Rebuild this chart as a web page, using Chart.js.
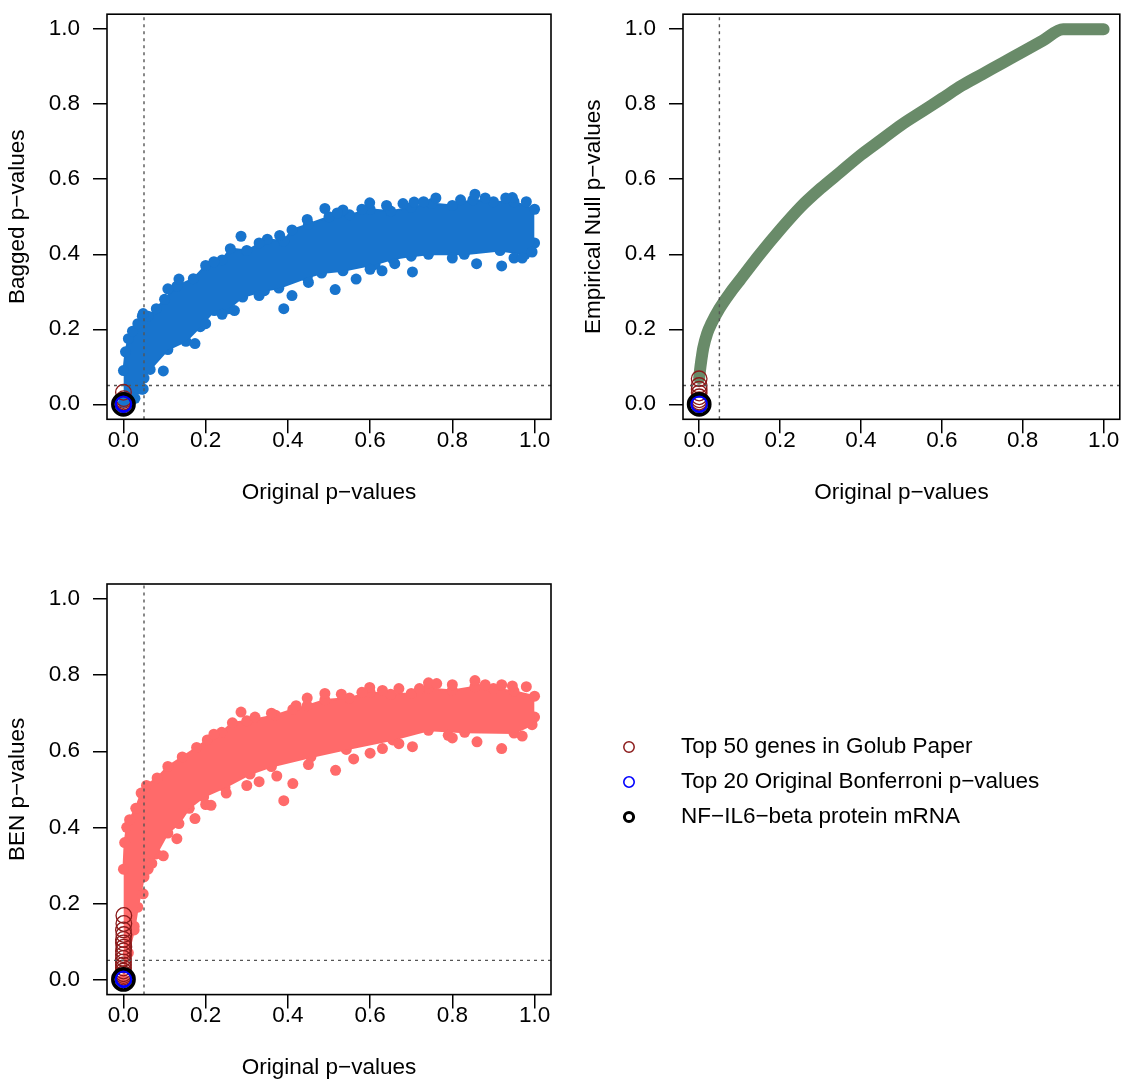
<!DOCTYPE html>
<html>
<head>
<meta charset="utf-8">
<script src="https://cdn.jsdelivr.net/npm/chart.js@4/dist/chart.umd.min.js"></script>
<style>
  body { margin: 0; background: #fff; }
  #wrap { position: relative; width: 1134px; height: 1084px; }
  canvas { position: absolute; }
</style>
</head>
<body>
<div id="wrap">
  <canvas id="baggedChart" width="567" height="542" style="left:0;top:0"></canvas>
  <canvas id="nullChart" width="567" height="542" style="left:567px;top:0"></canvas>
  <canvas id="benChart" width="1134" height="542" style="left:0;top:542px"></canvas>
</div>
<script>
// shared axis settings
const tickValues = [0, 0.2, 0.4, 0.6, 0.8, 1.0];
const axisMin = -0.04, axisMax = 1.04;
const cutoff = 0.05;

// Bagged p-values: outline of the dense cloud and the scattered points around it
const baggedUpper = [[0, 0.09], [0.005, 0.14], [0.012, 0.175], [0.022, 0.195], [0.035, 0.215], [0.046, 0.235],
  [0.06, 0.235], [0.08, 0.255], [0.1, 0.28], [0.13, 0.315], [0.17, 0.335], [0.2, 0.37], [0.24, 0.385],
  [0.26, 0.415], [0.3, 0.41], [0.35, 0.44], [0.39, 0.435], [0.41, 0.465], [0.45, 0.48], [0.5, 0.5],
  [0.55, 0.505], [0.6, 0.52], [0.65, 0.515], [0.7, 0.525], [0.75, 0.535], [0.8, 0.53], [0.85, 0.545],
  [0.9, 0.54], [0.95, 0.54], [1.0, 0.52]];
const baggedLower = [[0, 0.005], [0.02, 0.012], [0.045, 0.04], [0.05, 0.07], [0.065, 0.093], [0.108, 0.146],
  [0.152, 0.168], [0.187, 0.207], [0.221, 0.25], [0.256, 0.255], [0.29, 0.286], [0.343, 0.303],
  [0.378, 0.31], [0.447, 0.338], [0.482, 0.35], [0.534, 0.356], [0.612, 0.373], [0.655, 0.387],
  [0.7, 0.395], [0.742, 0.4], [0.829, 0.4], [0.916, 0.41], [0.977, 0.4], [1.0, 0.43]];
const baggedStray = [[0.097, 0.089], [0.174, 0.162], [0.39, 0.255], [0.41, 0.29], [0.515, 0.306],
  [0.566, 0.334], [0.629, 0.356], [0.703, 0.353], [0.859, 0.375], [0.92, 0.369], [0.95, 0.39],
  [0.994, 0.406], [0.286, 0.448], [0.447, 0.493], [0.49, 0.522], [0.855, 0.56], [0.599, 0.537],
  [0.76, 0.55], [0.946, 0.551], [0.707, 0.539], [0.534, 0.518], [0.135, 0.334], [0.108, 0.308],
  [0.048, 0.242], [0.048, 0.041], [0.028, 0.016],
  [0.2, 0.215], [0.24, 0.24], [0.27, 0.25], [0.33, 0.29], [0.45, 0.325], [0.6, 0.36], [0.66, 0.375],
  [0.8, 0.39], [0.97, 0.39], [0.22, 0.38], [0.33, 0.43], [0.38, 0.45], [0.52, 0.51], [0.58, 0.52],
  [0.64, 0.53], [0.68, 0.535], [0.73, 0.54], [0.82, 0.545], [0.88, 0.55], [0.93, 0.55], [0.98, 0.54]];
const baggedGolub = [[0, 0.032], [0.001, 0.015], [0, 0.01], [0.001, 0.006], [0, 0.004], [0, 0.002], [0, 0.001], [0, 0]];
const baggedBonf = [[0, 0], [0, 0.001], [0.001, 0.002]];
const baggedNf = [[0, 0]];

// Empirical null p-values: a single monotone curve
const nullCurve = [[0, 0.07], [0.002, 0.09], [0.005, 0.115], [0.01, 0.15], [0.02, 0.19], [0.03, 0.215],
  [0.05, 0.255], [0.075, 0.295], [0.1, 0.33], [0.15, 0.4], [0.2, 0.465], [0.25, 0.525], [0.3, 0.575],
  [0.35, 0.62], [0.4, 0.665], [0.45, 0.705], [0.5, 0.745], [0.55, 0.78], [0.6, 0.815], [0.65, 0.85],
  [0.7, 0.88], [0.75, 0.91], [0.8, 0.94], [0.85, 0.97], [0.9, 1.0], [1.0, 1.0]];
const nullGolub = [[0, 0.068], [0, 0.05], [0, 0.04], [0, 0.03], [0, 0.02], [0, 0.012], [0, 0.006], [0, 0.003], [0, 0.001]];
const nullBonf = [[0, 0], [0, 0.001]];
const nullNf = [[0, 0]];

// BEN p-values
const benUpper = [[0, 0.29], [0.003, 0.36], [0.008, 0.4], [0.015, 0.42], [0.03, 0.45], [0.043, 0.49],
  [0.056, 0.51], [0.082, 0.53], [0.108, 0.56], [0.143, 0.585], [0.178, 0.61], [0.204, 0.63],
  [0.239, 0.65], [0.265, 0.675], [0.3, 0.68], [0.37, 0.695], [0.412, 0.71], [0.447, 0.72],
  [0.49, 0.735], [0.55, 0.74], [0.6, 0.755], [0.65, 0.75], [0.7, 0.752], [0.742, 0.765], [0.8, 0.76],
  [0.855, 0.77], [0.9, 0.765], [0.95, 0.758], [1.0, 0.745]];
const benLower = [[0, 0], [0.012, 0.07], [0.026, 0.13], [0.035, 0.19], [0.05, 0.27], [0.06, 0.29],
  [0.08, 0.33], [0.108, 0.385], [0.135, 0.41], [0.16, 0.45], [0.195, 0.48], [0.247, 0.505],
  [0.308, 0.54], [0.36, 0.56], [0.456, 0.585], [0.542, 0.605], [0.655, 0.63], [0.742, 0.655],
  [0.83, 0.65], [0.95, 0.648], [0.994, 0.67], [1.0, 0.69]];
const benStray = [[0.048, 0.225], [0.069, 0.305], [0.097, 0.325], [0.13, 0.37], [0.174, 0.423],
  [0.213, 0.458], [0.3, 0.51], [0.39, 0.47], [0.412, 0.515], [0.373, 0.535], [0.516, 0.55],
  [0.56, 0.58], [0.63, 0.607], [0.703, 0.612], [0.79, 0.642], [0.86, 0.625], [0.92, 0.607],
  [0.286, 0.703], [0.447, 0.74], [0.49, 0.752], [0.599, 0.768], [0.742, 0.78], [0.855, 0.786],
  [0.762, 0.778], [0.946, 0.772], [0.026, 0.14],
  [0.22, 0.645], [0.32, 0.69], [0.36, 0.7], [0.42, 0.72], [0.53, 0.75], [0.58, 0.755], [0.63, 0.76],
  [0.67, 0.765], [0.72, 0.765], [0.8, 0.775], [0.88, 0.775], [0.92, 0.775], [0.98, 0.77],
  [0.2, 0.46], [0.25, 0.49], [0.33, 0.52], [0.45, 0.565], [0.6, 0.595], [0.67, 0.62], [0.8, 0.635], [0.97, 0.64]];
const benGolub = [[0.001, 0.168], [0.001, 0.147], [0, 0.13], [0.001, 0.118], [0, 0.105], [0, 0.096],
  [0.001, 0.085], [0, 0.075], [0, 0.065], [0, 0.055], [0, 0.046], [0, 0.038], [0, 0.03], [0, 0.022],
  [0, 0.015], [0, 0.01], [0, 0.006], [0, 0.003], [0, 0.001]];
const benBonf = [[0, 0], [0, 0.001], [0.001, 0.002]];
const benNf = [[0, 0]];

// marker key
const keyLabels = ['Top 50 genes in Golub Paper', 'Top 20 Original Bonferroni p\u2212values', 'NF\u2212IL6\u2212beta protein mRNA'];
const keyColors = ['#8B1A1A', '#0000FF', '#000000'];
const keyWidths = [1.5, 1.6, 3];

const fontFamily = '"Liberation Sans", Arial, Helvetica, sans-serif';
const font = { family: fontFamily, size: 22.5, lineHeight: 1 };
const pts = arr => arr.map(p => ({ x: p[0], y: p[1] }));

// box around the plotting region
const framePlugin = {
  id: 'frame',
  afterDatasetsDraw(chart) {
    const { ctx, chartArea: a } = chart;
    ctx.save();
    ctx.strokeStyle = '#000';
    ctx.lineWidth = 1.6;
    ctx.strokeRect(a.left, a.top, a.right - a.left, a.bottom - a.top);
    ctx.restore();
  }
};

const keyPlugin = {
  id: 'markerKey',
  afterDraw(chart) {
    const ctx = chart.ctx;
    const cx = chart.chartArea.right + 78;
    ctx.save();
    ctx.font = '22.5px ' + fontFamily;
    ctx.textBaseline = 'middle';
    keyLabels.forEach((label, i) => {
      const y = 205 + i * 35;
      ctx.beginPath();
      ctx.arc(cx, y, i === 2 ? 4.6 : 5.2, 0, Math.PI * 2);
      ctx.lineWidth = keyWidths[i];
      ctx.strokeStyle = keyColors[i];
      ctx.stroke();
      ctx.fillStyle = '#000';
      ctx.fillText(label, cx + 52, y);
    });
    ctx.restore();
  }
};

function markerSets(golub, bonf, nf) {
  return [
    { data: pts(golub), order: 4, pointRadius: 7.8, pointBorderWidth: 1.3,
      pointBorderColor: '#8B1A1A', pointBackgroundColor: 'rgba(0,0,0,0)' },
    { data: pts(bonf), order: 3, pointRadius: 7.8, pointBorderWidth: 2,
      pointBorderColor: '#0000FF', pointBackgroundColor: 'rgba(0,0,0,0)' },
    { data: pts(nf), order: 2, pointRadius: 10.6, pointBorderWidth: 3.6,
      pointBorderColor: '#000', pointBackgroundColor: 'rgba(0,0,0,0)' }
  ];
}

function cutoffLines() {
  const style = { type: 'line', order: 1, borderColor: '#555', borderWidth: 1.4, borderDash: [3, 4],
    pointRadius: 0, fill: false };
  return [
    Object.assign({ data: [{ x: cutoff, y: axisMin }, { x: cutoff, y: axisMax }] }, style),
    Object.assign({ data: [{ x: axisMin, y: cutoff }, { x: axisMax, y: cutoff }] }, style)
  ];
}

function cloudSets(upper, lower, stray, color) {
  const edge = { type: 'line', order: 10, borderColor: color, backgroundColor: color, borderWidth: 2,
    pointRadius: 5.5, pointBorderWidth: 0, pointBackgroundColor: color };
  return [
    Object.assign({ data: pts(upper), fill: '+1' }, edge),
    Object.assign({ data: pts(lower), fill: false }, edge),
    { data: pts(stray), order: 9, pointRadius: 5.5, pointBorderWidth: 0, pointBackgroundColor: color }
  ];
}

// box: plotting region edges in canvas pixels
function pvalPanel(id, box, yTitle, datasets, extraPlugins) {
  const canvas = document.getElementById(id);
  const W = canvas.width, H = canvas.height;
  return new Chart(canvas.getContext('2d'), {
    type: 'scatter',
    data: { datasets: datasets },
    options: {
      responsive: false,
      animation: false,
      events: [],
      layout: { padding: { left: 0, top: box.top, right: W - box.right, bottom: 0 } },
      plugins: { legend: { display: false }, tooltip: { enabled: false } },
      scales: {
        x: {
          type: 'linear', min: axisMin, max: axisMax,
          afterBuildTicks: s => { s.ticks = tickValues.map(v => ({ value: v })); },
          afterFit: s => { s.height = H - box.bottom; s.paddingLeft = 0; s.paddingRight = 0; },
          grid: { drawOnChartArea: false, drawTicks: true, tickLength: 14, color: '#000', lineWidth: 1.5 },
          border: { display: false },
          ticks: { color: '#000', font: font, padding: -4.25, autoSkip: false, maxRotation: 0,
            callback: v => v.toFixed(1) },
          title: { display: true, text: 'Original p\u2212values', color: '#000', font: font,
            padding: { top: 0, bottom: H - box.bottom - 73 - 11.25 } }
        },
        y: {
          type: 'linear', min: axisMin, max: axisMax,
          afterBuildTicks: s => { s.ticks = tickValues.map(v => ({ value: v })); },
          afterFit: s => { s.width = box.left; s.paddingTop = 0; s.paddingBottom = 0; },
          grid: { drawOnChartArea: false, drawTicks: true, tickLength: 14, color: '#000', lineWidth: 1.5 },
          border: { display: false },
          ticks: { color: '#000', font: font, padding: 13, autoSkip: false,
            callback: v => v.toFixed(1) },
          title: { display: true, text: yTitle, color: '#000', font: font,
            padding: { top: box.left - 89 - 11.25, bottom: 0 } }
        }
      }
    },
    plugins: [framePlugin].concat(extraPlugins || [])
  });
}

document.addEventListener('DOMContentLoaded', function() {
  pvalPanel('baggedChart', { left: 107, top: 7.5, right: 551, bottom: 419.3 }, 'Bagged p\u2212values',
    cutoffLines().concat(markerSets(baggedGolub, baggedBonf, baggedNf),
      cloudSets(baggedUpper, baggedLower, baggedStray, '#1874CD')));

  pvalPanel('nullChart', { left: 116, top: 7.5, right: 558, bottom: 419.3 }, 'Empirical Null p\u2212values',
    cutoffLines().concat(markerSets(nullGolub, nullBonf, nullNf), [{
      type: 'line', order: 10, data: pts(nullCurve), borderColor: '#698B69', borderWidth: 12,
      borderCapStyle: 'round', borderJoinStyle: 'round', cubicInterpolationMode: 'monotone',
      pointRadius: 0, fill: false
    }]));

  pvalPanel('benChart', { left: 107, top: 42, right: 551, bottom: 452.6 }, 'BEN p\u2212values',
    cutoffLines().concat(markerSets(benGolub, benBonf, benNf),
      cloudSets(benUpper, benLower, benStray, '#FF6A6A')), [keyPlugin]);
});
</script>
</body>
</html>
